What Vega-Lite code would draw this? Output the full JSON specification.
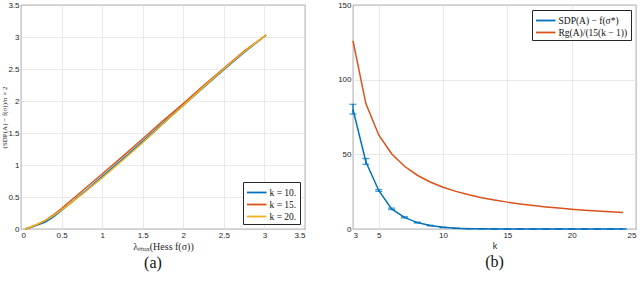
{
  "$schema": "https://vega.github.io/schema/vega-lite/v6.json",
  "padding": 0,
  "background": "white",
  "spacing": 31,
  "config": {
    "view": {"stroke": "#262626", "strokeWidth": 0.8},
    "axis": {
      "labelFont": "Liberation Sans", "labelFontSize": 8, "labelColor": "#262626",
      "gridColor": "#e3e3e3", "gridWidth": 0.8, "domain": false, "ticks": false, "labelPadding": 2,
      "titleFont": "Liberation Serif", "titleColor": "#262626", "titleFontWeight": "normal"
    },
    "title": {"font": "Liberation Serif", "fontSize": 16, "fontWeight": "normal", "color": "#111111"},
    "legend": {
      "labelFont": "Liberation Serif", "labelFontSize": 9.5, "labelColor": "#111111",
      "symbolType": "M-1,0H2", "symbolSize": 169, "symbolStrokeWidth": 1.8,
      "strokeColor": "#262626", "fillColor": "white", "padding": 3, "rowPadding": 0,
      "labelOffset": 8.5, "offset": 5, "cornerRadius": 0
    }
  },
  "resolve": {"scale": {"color": "independent"}, "legend": {"color": "independent"}},
  "hconcat": [
    {
      "width": 284, "height": 224,
      "title": {"text": "(a)", "orient": "bottom", "offset": 4, "frame": "bounds"},
      "data": {"values": [
        {"k": "k = 10.", "lam": 0.05, "v": 0.0}, {"k": "k = 10.", "lam": 0.1, "v": 0.015}, {"k": "k = 10.", "lam": 0.2, "v": 0.06},
        {"k": "k = 10.", "lam": 0.3, "v": 0.11}, {"k": "k = 10.", "lam": 0.4, "v": 0.19}, {"k": "k = 10.", "lam": 0.5, "v": 0.29},
        {"k": "k = 10.", "lam": 0.6, "v": 0.39}, {"k": "k = 10.", "lam": 0.7, "v": 0.5}, {"k": "k = 10.", "lam": 0.8, "v": 0.6},
        {"k": "k = 10.", "lam": 1.0, "v": 0.82}, {"k": "k = 10.", "lam": 1.25, "v": 1.09}, {"k": "k = 10.", "lam": 1.5, "v": 1.37},
        {"k": "k = 10.", "lam": 1.75, "v": 1.65}, {"k": "k = 10.", "lam": 2.0, "v": 1.93}, {"k": "k = 10.", "lam": 2.25, "v": 2.21},
        {"k": "k = 10.", "lam": 2.5, "v": 2.49}, {"k": "k = 10.", "lam": 2.75, "v": 2.76}, {"k": "k = 10.", "lam": 3.02, "v": 3.03},
        {"k": "k = 15.", "lam": 0.05, "v": 0.0}, {"k": "k = 15.", "lam": 0.1, "v": 0.02}, {"k": "k = 15.", "lam": 0.2, "v": 0.07},
        {"k": "k = 15.", "lam": 0.3, "v": 0.135}, {"k": "k = 15.", "lam": 0.4, "v": 0.22}, {"k": "k = 15.", "lam": 0.5, "v": 0.32},
        {"k": "k = 15.", "lam": 0.6, "v": 0.43}, {"k": "k = 15.", "lam": 0.7, "v": 0.535}, {"k": "k = 15.", "lam": 0.8, "v": 0.645},
        {"k": "k = 15.", "lam": 1.0, "v": 0.86}, {"k": "k = 15.", "lam": 1.25, "v": 1.13}, {"k": "k = 15.", "lam": 1.5, "v": 1.41},
        {"k": "k = 15.", "lam": 1.75, "v": 1.69}, {"k": "k = 15.", "lam": 2.0, "v": 1.96}, {"k": "k = 15.", "lam": 2.25, "v": 2.24},
        {"k": "k = 15.", "lam": 2.5, "v": 2.51}, {"k": "k = 15.", "lam": 2.75, "v": 2.78}, {"k": "k = 15.", "lam": 3.02, "v": 3.03},
        {"k": "k = 20.", "lam": 0.05, "v": 0.0}, {"k": "k = 20.", "lam": 0.1, "v": 0.02}, {"k": "k = 20.", "lam": 0.2, "v": 0.075},
        {"k": "k = 20.", "lam": 0.3, "v": 0.135}, {"k": "k = 20.", "lam": 0.4, "v": 0.21}, {"k": "k = 20.", "lam": 0.5, "v": 0.3},
        {"k": "k = 20.", "lam": 0.6, "v": 0.39}, {"k": "k = 20.", "lam": 0.7, "v": 0.49}, {"k": "k = 20.", "lam": 0.8, "v": 0.59},
        {"k": "k = 20.", "lam": 1.0, "v": 0.8}, {"k": "k = 20.", "lam": 1.25, "v": 1.07}, {"k": "k = 20.", "lam": 1.5, "v": 1.35},
        {"k": "k = 20.", "lam": 1.75, "v": 1.64}, {"k": "k = 20.", "lam": 2.0, "v": 1.93}, {"k": "k = 20.", "lam": 2.25, "v": 2.22},
        {"k": "k = 20.", "lam": 2.5, "v": 2.5}, {"k": "k = 20.", "lam": 2.75, "v": 2.77}, {"k": "k = 20.", "lam": 3.02, "v": 3.03}
      ]},
      "mark": {"type": "line", "strokeWidth": 1.5},
      "encoding": {
        "x": {"field": "lam", "type": "quantitative", "scale": {"domain": [0, 3.5], "nice": false},
          "axis": {"values": [0, 0.5, 1, 1.5, 2, 2.5, 3, 3.5], "format": "~g", "title": "λₘₐₓ(Hess f(σ))", "titleFontSize": 10, "titlePadding": 2}},
        "y": {"field": "v", "type": "quantitative", "scale": {"domain": [0, 3.5], "nice": false},
          "axis": {"values": [0, 0.5, 1, 1.5, 2, 2.5, 3, 3.5], "format": "~g", "title": "(SDP(A) − f(σ))/n × 2", "titleFontSize": 7, "titlePadding": 0}},
        "color": {"field": "k", "type": "nominal",
          "scale": {"domain": ["k = 10.", "k = 15.", "k = 20."], "range": ["#0072BD", "#D95319", "#EDB120"]},
          "legend": {"title": null, "orient": "bottom-right"}}
      }
    },
    {
      "width": 283, "height": 224,
      "title": {"text": "(b)", "orient": "bottom", "offset": 4},
      "data": {"values": [
        {"s": "SDP(A) − f(σ*)", "k": 3, "v": 80, "lo": 77, "hi": 83.5},
        {"s": "SDP(A) − f(σ*)", "k": 4, "v": 45, "lo": 43.3, "hi": 47.2},
        {"s": "SDP(A) − f(σ*)", "k": 5, "v": 25.8, "lo": 25.2, "hi": 26.4},
        {"s": "SDP(A) − f(σ*)", "k": 6, "v": 13.5, "lo": 13, "hi": 14},
        {"s": "SDP(A) − f(σ*)", "k": 7, "v": 7.8, "lo": 7.4, "hi": 8.2},
        {"s": "SDP(A) − f(σ*)", "k": 8, "v": 4.3, "lo": 4.0, "hi": 4.6},
        {"s": "SDP(A) − f(σ*)", "k": 9, "v": 2.3, "lo": 2.1, "hi": 2.5},
        {"s": "SDP(A) − f(σ*)", "k": 10, "v": 1.1, "lo": 0.9, "hi": 1.3},
        {"s": "SDP(A) − f(σ*)", "k": 11, "v": 0.5, "lo": 0.4, "hi": 0.6},
        {"s": "SDP(A) − f(σ*)", "k": 12, "v": 0.25, "lo": 0.2, "hi": 0.3},
        {"s": "SDP(A) − f(σ*)", "k": 13, "v": 0.12, "lo": 0.1, "hi": 0.14},
        {"s": "SDP(A) − f(σ*)", "k": 14, "v": 0.06, "lo": 0.05, "hi": 0.07},
        {"s": "SDP(A) − f(σ*)", "k": 15, "v": 0.03, "lo": 0.02, "hi": 0.04},
        {"s": "SDP(A) − f(σ*)", "k": 16, "v": 0.02, "lo": 0.01, "hi": 0.03},
        {"s": "SDP(A) − f(σ*)", "k": 17, "v": 0.01, "lo": 0.0, "hi": 0.02},
        {"s": "SDP(A) − f(σ*)", "k": 18, "v": 0.01, "lo": 0.0, "hi": 0.02},
        {"s": "SDP(A) − f(σ*)", "k": 19, "v": 0.0, "lo": 0.0, "hi": 0.01},
        {"s": "SDP(A) − f(σ*)", "k": 20, "v": 0.0, "lo": 0.0, "hi": 0.01},
        {"s": "SDP(A) − f(σ*)", "k": 21, "v": 0.0, "lo": 0.0, "hi": 0.01},
        {"s": "SDP(A) − f(σ*)", "k": 22, "v": 0.0, "lo": 0.0, "hi": 0.01},
        {"s": "SDP(A) − f(σ*)", "k": 23, "v": 0.0, "lo": 0.0, "hi": 0.01},
        {"s": "SDP(A) − f(σ*)", "k": 24, "v": 0.0, "lo": 0.0, "hi": 0.01},
        {"s": "Rg(A)/(15(k − 1))", "k": 3, "v": 126},
        {"s": "Rg(A)/(15(k − 1))", "k": 4, "v": 84},
        {"s": "Rg(A)/(15(k − 1))", "k": 5, "v": 63},
        {"s": "Rg(A)/(15(k − 1))", "k": 6, "v": 50.4},
        {"s": "Rg(A)/(15(k − 1))", "k": 7, "v": 42},
        {"s": "Rg(A)/(15(k − 1))", "k": 8, "v": 36},
        {"s": "Rg(A)/(15(k − 1))", "k": 9, "v": 31.5},
        {"s": "Rg(A)/(15(k − 1))", "k": 10, "v": 28},
        {"s": "Rg(A)/(15(k − 1))", "k": 11, "v": 25.2},
        {"s": "Rg(A)/(15(k − 1))", "k": 12, "v": 22.9},
        {"s": "Rg(A)/(15(k − 1))", "k": 13, "v": 21},
        {"s": "Rg(A)/(15(k − 1))", "k": 14, "v": 19.4},
        {"s": "Rg(A)/(15(k − 1))", "k": 15, "v": 18},
        {"s": "Rg(A)/(15(k − 1))", "k": 16, "v": 16.8},
        {"s": "Rg(A)/(15(k − 1))", "k": 17, "v": 15.75},
        {"s": "Rg(A)/(15(k − 1))", "k": 18, "v": 14.8},
        {"s": "Rg(A)/(15(k − 1))", "k": 19, "v": 14},
        {"s": "Rg(A)/(15(k − 1))", "k": 20, "v": 13.3},
        {"s": "Rg(A)/(15(k − 1))", "k": 21, "v": 12.6},
        {"s": "Rg(A)/(15(k − 1))", "k": 22, "v": 12},
        {"s": "Rg(A)/(15(k − 1))", "k": 23, "v": 11.5},
        {"s": "Rg(A)/(15(k − 1))", "k": 24, "v": 11}
      ]},
      "encoding": {
        "x": {"field": "k", "type": "quantitative", "scale": {"domain": [3, 25], "nice": false},
          "axis": {"values": [3, 5, 10, 15, 20, 25], "title": "k", "titleFont": "Liberation Sans", "titleFontSize": 9, "titlePadding": 2}}
      },
      "layer": [
        {
          "mark": {"type": "line", "strokeWidth": 1.5},
          "encoding": {
            "y": {"field": "v", "type": "quantitative", "scale": {"domain": [0, 150], "nice": false},
              "axis": {"values": [0, 50, 100, 150], "title": null}},
            "color": {"field": "s", "type": "nominal",
              "scale": {"domain": ["SDP(A) − f(σ*)", "Rg(A)/(15(k − 1))"], "range": ["#0072BD", "#D95319"]},
              "legend": {"title": null, "orient": "top-right"}}
          }
        },
        {
          "transform": [{"filter": "isValid(datum.lo)"}],
          "mark": {"type": "rule", "color": "#0072BD", "strokeWidth": 1.3},
          "encoding": {"y": {"field": "lo", "type": "quantitative"}, "y2": {"field": "hi"}}
        },
        {
          "transform": [{"filter": "isValid(datum.lo)"}],
          "mark": {"type": "tick", "orient": "horizontal", "color": "#0072BD", "size": 7, "thickness": 1.3},
          "encoding": {"y": {"field": "lo", "type": "quantitative"}}
        },
        {
          "transform": [{"filter": "isValid(datum.hi)"}],
          "mark": {"type": "tick", "orient": "horizontal", "color": "#0072BD", "size": 7, "thickness": 1.3},
          "encoding": {"y": {"field": "hi", "type": "quantitative"}}
        }
      ]
    }
  ]
}
